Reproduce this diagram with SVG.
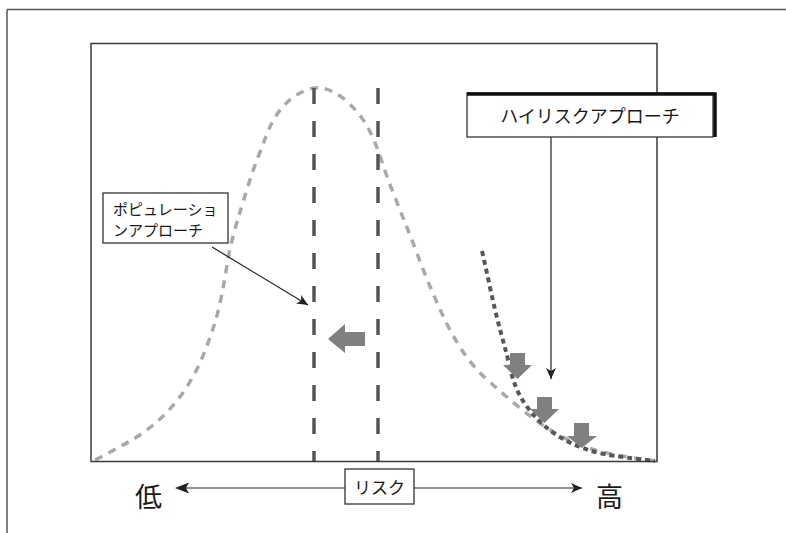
<svg xmlns="http://www.w3.org/2000/svg" width="786" height="533" viewBox="0 0 786 533">
<style>
.t{font-family:"Noto Sans CJK JP","Noto Sans",sans-serif;fill:#1a1a1a}
.frame{fill:none;stroke:#3a3a3a;stroke-width:1.5}
.box{fill:#fff;stroke:#333;stroke-width:1.3}
.fat{fill:#808080}
.lead{fill:none;stroke:#222;stroke-width:1.2}
</style>
<defs>
<marker id="ah" markerWidth="12" markerHeight="10" refX="11" refY="5" orient="auto" markerUnits="userSpaceOnUse">
<path d="M0,0 L11,5 L0,10 L3,5 Z" fill="#222"/>
</marker>
</defs>
<rect width="786" height="533" fill="#fff"/>
<g id="outer-frame">
<path d="M7,9.5 H786 M7,9.5 V533" fill="none" stroke="#555" stroke-width="1.5"/>
</g>
<g id="population-curve">
<path d="M95,460 Q122,446 133.5,439 Q145,432 155,423.5 Q165,415 175,403 Q185,391 192.5,377.5 Q200,364 205,351 Q210,338 214,325.5 Q218,313 221,298.5 Q224,284 226.5,268 Q229,252 232.5,238.5 Q236,225 239.5,213.5 Q243,202 248,186 Q253,170 257.5,158.5 Q262,147 265.5,137.5 Q269,128 273.5,120 Q278,112 284,105.5 Q290,99 296.5,95 Q303,91 309.5,89 Q316,87 322,88 Q328,89 334.5,92.5 Q341,96 347,101.5 Q353,107 358,113 Q363,119 367,126 Q371,133 374.5,141.5 Q378,150 382.5,163.5 Q387,177 393.5,193.5 Q400,210 406,225 Q412,240 418,256 Q424,272 430.5,287.5 Q437,303 444,318 Q451,333 461.5,349.5 Q472,366 487.5,380 Q503,394 520,408 Q537,422 553.5,432 Q570,442 590,448.5 Q610,455 655,461" fill="none" stroke="#a9a9a9" stroke-width="3.5" stroke-dasharray="8 7"/>
</g>
<g id="mean-lines">
<path d="M314,88 V462 M378,88 V462" fill="none" stroke="#555" stroke-width="3.5" stroke-dasharray="16 17"/>
</g>
<g id="high-risk-curve">
<path d="M482,251 Q487,273 489.5,285 Q492,297 494.5,307.5 Q497,318 499.5,327.5 Q502,337 504.5,346 Q507,355 509.5,366 Q512,377 515.5,386 Q519,395 524,402.5 Q529,410 534.5,416 Q540,422 546.5,427.5 Q553,433 561.5,438 Q570,443 581.5,447.5 Q593,452 606.5,454.5 Q620,457 655,461" fill="none" stroke="#575757" stroke-width="4" stroke-dasharray="5 4"/>
</g>
<g id="shift-arrows">
<polygon class="fat" points="328,339 345,324 345,332 365,332 365,346 345,346 345,353"/>
<polygon class="fat" points="510,353 525,353 525,365 532,365 517.5,379 503,365 510,365"/>
<polygon class="fat" points="537,397 552,397 552,409 559,409 544.5,423 530,409 537,409"/>
<polygon class="fat" points="574,423 589,423 589,436 597,436 581.5,448 567,436 574,436"/>
</g>
<g id="plot-frame">
<rect x="91" y="43.5" width="566" height="418" class="frame"/>
</g>
<g id="connectors">
<line x1="212" y1="247" x2="308" y2="305" class="lead" marker-end="url(#ah)"/>
<line x1="551" y1="137" x2="551" y2="379" class="lead" marker-end="url(#ah)"/>
<line x1="180" y1="488" x2="582" y2="488" class="lead" marker-end="url(#ah)"/>
<path d="M175,488 L189,482.5 L186,488 L189,493.5 Z" fill="#222"/>
</g>
<g id="population-label">
<rect x="103" y="193" width="125" height="50" class="box"/>
<text class="t" x="113" y="215" font-size="15">ポピュレーショ</text>
<text class="t" x="113" y="236" font-size="15">ンアプローチ</text>
</g>
<g id="high-risk-label">
<rect x="467" y="93" width="246" height="44" class="box"/>
<path d="M467,94 H715 V137" fill="none" stroke="#111" stroke-width="3.5"/>
<text class="t" x="590" y="123" font-size="18" text-anchor="middle">ハイリスクアプローチ</text>
</g>
<g id="risk-label">
<rect x="345" y="469" width="69" height="35" class="box"/>
<text class="t" x="379.5" y="494" font-size="17" text-anchor="middle">リスク</text>
</g>
<g id="low-label">
<text class="t" x="135" y="507" font-size="27">低</text>
</g>
<g id="high-label">
<text class="t" x="596" y="507" font-size="27">高</text>
</g>
</svg>
